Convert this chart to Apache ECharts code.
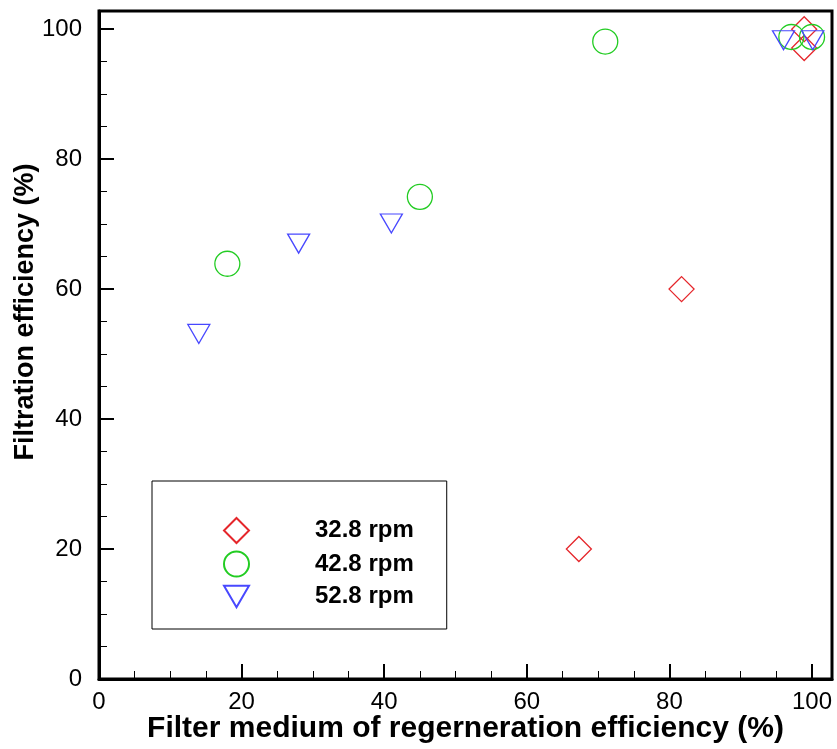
<!DOCTYPE html>
<html>
<head>
<meta charset="utf-8">
<script src="https://cdn.jsdelivr.net/npm/echarts@6/dist/echarts.min.js"></script>
<style>html,body{margin:0;padding:0;background:#fff;}#c{width:837px;height:749px;}</style>
</head>
<body>
<div id="c"></div>
<script>
const xTitle = 'Filter medium of regerneration efficiency (%)';
const yTitle = 'Filtration efficiency (%)';
const seriesNames = ['32.8 rpm', '42.8 rpm', '52.8 rpm'];
const rpm328 = [[67.3, 20.0], [81.7, 60.0], [98.9, 100.0], [98.9, 97.1]];
const rpm428 = [[18.0, 63.9], [45.0, 74.2], [71.0, 98.1], [97.1, 98.8], [100.0, 98.8]];
const rpm528 = [[14.0, 53.1], [28.0, 67.0], [41.0, 70.1], [96.0, 98.3], [100.1, 98.3]];
const tickValues = [0, 20, 40, 60, 80, 100];

const colors = ['#e5262b', '#22cc22', '#4848ff'];
const triDown = 'path://M0,0 L22,0 L11,19 Z';
const font = 'Arial, "Liberation Sans", Helvetica, sans-serif';

function axisCommon() {
  return {
    type: 'value', min: 0, max: 102.8, interval: 20,
    axisLine: { show: true, onZero: false, lineStyle: { color: '#000', width: 3 } },
    axisTick: { show: true, inside: true, length: 15, lineStyle: { color: '#000', width: 2 } },
    minorTick: { show: true, splitNumber: 4, length: 8, lineStyle: { color: '#000', width: 1 } },
    splitLine: { show: false },
    axisLabel: {
      color: '#000', fontSize: 24, fontFamily: font,
      formatter: v => tickValues.includes(Math.round(v * 1000) / 1000) ? String(v) : '',
      showMaxLabel: true
    },
    nameLocation: 'middle',
    nameMoveOverlap: false,
    nameTextStyle: { color: '#000', fontSize: 30, fontWeight: 'bold', fontFamily: font }
  };
}

const xAxis = Object.assign(axisCommon(), { name: xTitle, nameGap: 35 });
xAxis.axisLabel.margin = 11;
const yAxis = Object.assign(axisCommon(), { name: yTitle, nameGap: 60 });
yAxis.axisLabel.margin = 17;
yAxis.nameTextStyle = Object.assign({}, yAxis.nameTextStyle, { fontSize: 27, padding: [0, 0, 0, 66] });

const symbols = ['diamond', 'circle', triDown];
const sizes = [25, 25, [22, 19]];
const datasets = [rpm328, rpm428, rpm528];

const series = datasets.map((d, i) => ({
  type: 'scatter',
  name: seriesNames[i],
  data: d,
  symbol: symbols[i],
  symbolSize: sizes[i],
  itemStyle: { color: 'rgba(0,0,0,0)', borderColor: colors[i], borderWidth: 1.3, opacity: 1 },
  emphasis: { disabled: true },
  z: 3
}));

const chart = echarts.init(document.getElementById('c'), null, { renderer: 'canvas' });
chart.setOption({
  animation: false,
  backgroundColor: '#fff',
  grid: { left: 99, right: 5, top: 11, bottom: 70, outerBoundsMode: 'none', containLabel: false, show: true, borderColor: '#000', borderWidth: 3, backgroundColor: 'transparent' },
  xAxis: xAxis,
  yAxis: yAxis,
  legend: {
    orient: 'vertical',
    left: 152, top: 481,
    padding: [36, 33, 20, 71],
    itemGap: 6.5,
    itemWidth: 25, itemHeight: 25,
    borderColor: '#000', borderWidth: 1,
    backgroundColor: '#fff',
    selectedMode: false,
    data: [
      { name: seriesNames[0], icon: 'diamond' },
      { name: seriesNames[1], icon: 'circle' },
      { name: seriesNames[2], icon: triDown, itemHeight: 19 }
    ],
    textStyle: { color: '#000', fontSize: 24, fontWeight: 'bold', fontFamily: font, padding: [0, 0, 0, 61], lineHeight: 25 }
  },
  series: series
});
</script>
</body>
</html>
